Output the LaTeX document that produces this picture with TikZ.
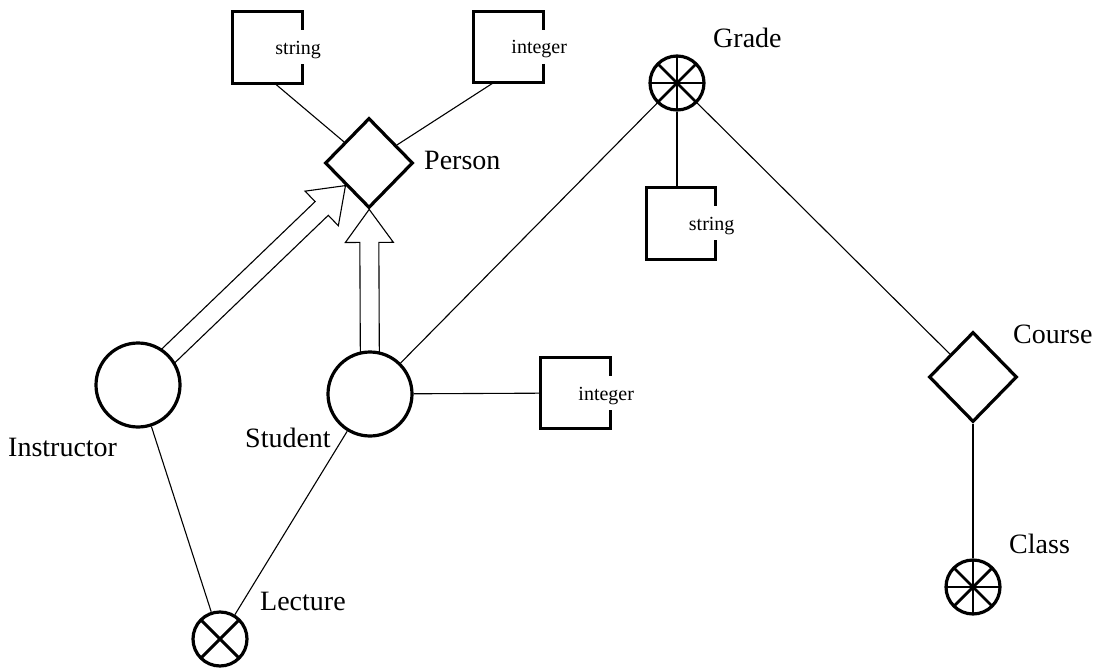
\documentclass[tikz,border=0pt]{standalone}
\usepackage{fontspec}
\setmainfont{Liberation Serif}
\usetikzlibrary{shapes.geometric,calc,backgrounds}

\tikzset{
  entity/.style={circle, draw, line width=3.2pt, minimum size=84pt, inner sep=0pt, fill=white},
  relship/.style={diamond, draw, line width=3.2pt, minimum width=88pt, minimum height=90pt, inner sep=0pt, fill=white},
  multival/.style={circle, draw, line width=3.2pt, minimum size=54pt, inner sep=0pt, fill=white,
    path picture={\foreach \a in {0,45,90,135}
      \draw[line width=2.8pt] (path picture bounding box.center) +(\a:30pt) -- +(\a+180:30pt);}},
  crossed/.style={circle, draw, line width=3.2pt, minimum size=54pt, inner sep=0pt, fill=white,
    path picture={\foreach \a in {45,135}
      \draw[line width=3pt] (path picture bounding box.center) +(\a:30pt) -- +(\a+180:30pt);}},
  valbox/.style={rectangle, minimum width=69pt, minimum height=71pt, inner sep=0pt},
  boxline/.style={line width=3.2pt, line cap=butt, line join=miter},
  valtext/.style={font=\fontsize{20}{20}\selectfont, anchor=base, inner sep=0pt},
  tag/.style={font=\fontsize{28}{28}\selectfont, anchor=base west, inner sep=0pt},
  link/.style={line width=1.1pt},
  isa/.style={line width=1.1pt, fill=white, line join=miter},
}

% value box: open in the middle of its right side, the type name sits in the gap
\newcommand\valuebox[3]{%
  \node[valbox] (#1) at (#2) {};
  \draw[boxline] ([yshift=-17pt]#1.east) -- (#1.south east) -- (#1.south west)
    -- (#1.north west) -- (#1.north east) -- ([yshift=17pt]#1.east);
  \node[valtext] (#1-t) at ([xshift=-4pt,yshift=-7pt]#1.east) {#3};
}

% hollow is-a arrow from one node to another
\newcommand\isaarrow[3]{%
  \path (#1) -- coordinate[pos=0] (#3s0) coordinate[pos=1] (#3e) (#2);
  \coordinate (#3s) at ($(#3s0)!-2pt!(#3e)$);
  \coordinate (#3b) at ($(#3e)!33pt!(#3s)$);
  \draw[isa] ($(#3s)!9.5pt!90:(#3e)$) -- ($(#3b)!9.5pt!90:(#3e)$)
    -- ($(#3b)!24pt!90:(#3e)$) -- (#3e) -- ($(#3b)!24pt!-90:(#3e)$)
    -- ($(#3b)!9.5pt!-90:(#3e)$) -- ($(#3s)!9.5pt!-90:(#3e)$);
}

\begin{document}
\begin{tikzpicture}[x=1pt,y=-1pt]
  \useasboundingbox (0,0) rectangle (1099,668);

  % entity sets, relationships and multi-valued objects
  \node[relship] (Person) at (369,163) {};
  \node[relship] (Course) at (973,377) {};
  \node[entity] (Instructor) at (138,385) {};
  \node[entity] (Student) at (370,394) {};
  \node[multival] (Grade) at (677,83) {};
  \node[multival] (Class) at (973,587) {};
  \node[crossed] (Lecture) at (220,639) {};

  % value types
  \valuebox{strA}{267.5,47.5}{string}
  \valuebox{intA}{508.5,47}{integer}
  \valuebox{strG}{681,223.5}{string}
  \valuebox{intS}{575.5,393}{integer}

  % names
  \node[tag] (PersonL) at (424,170) {Person};
  \node[tag] (GradeL) at (713,48) {Grade};
  \node[tag] (InstructorL) at (8,456) {Instructor};
  \node[tag] (StudentL) at (245,447) {Student};
  \node[tag] (CourseL) at (1013,343) {Course};
  \node[tag] (ClassL) at (1009,553) {Class};
  \node[tag] (LectureL) at (260,610) {Lecture};

  \begin{pgfonlayer}{background}
    \draw[link] ([xshift=7pt]strA.south) -- (Person);
    \draw[link] ([xshift=-15pt]intA.south) -- (Person);
    \draw[link] (Grade) -- (Grade |- strG.north);
    \draw[link] (Student) -- (intS);
    \draw[link] (Student) -- (Grade);
    \draw[link] (Grade) -- (Course);
    \draw[link] (Course) -- (Class);
    \draw[link] (Instructor) -- (Lecture);
    \draw[link] (Student) -- (Lecture);
    \isaarrow{Instructor}{Person}{ai}
    \isaarrow{Student}{Person}{as}
  \end{pgfonlayer}
\end{tikzpicture}
\end{document}
